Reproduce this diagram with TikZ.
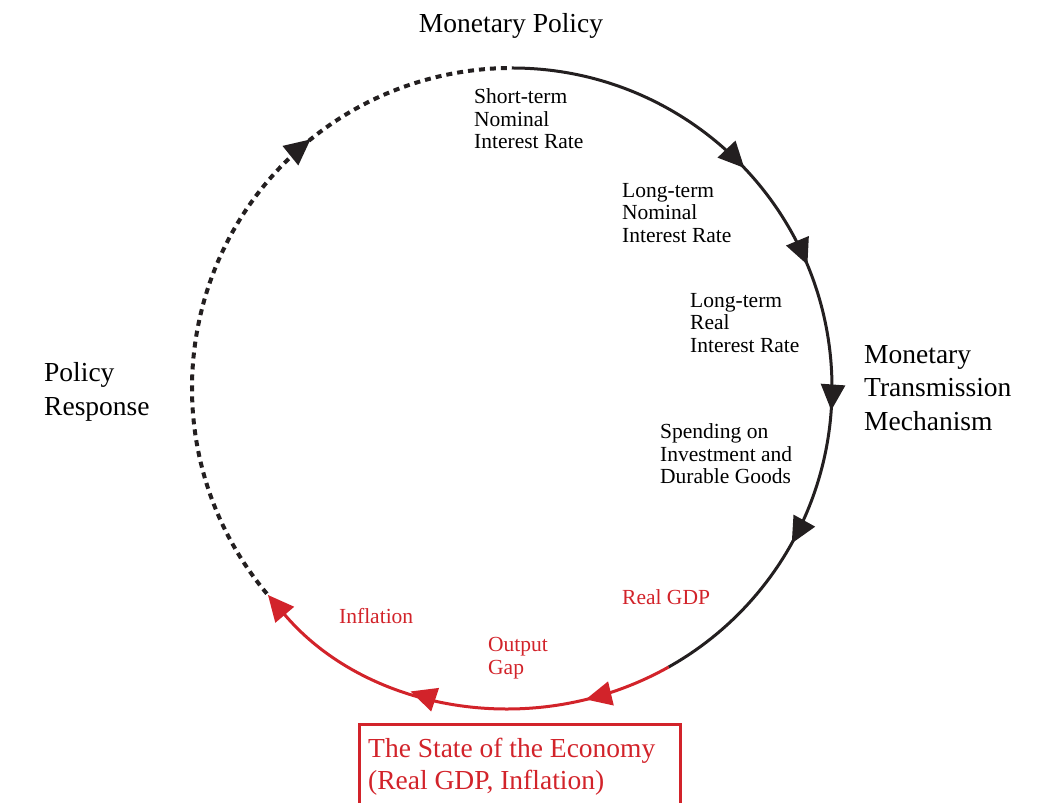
\documentclass[tikz,border=0pt]{standalone}
\usepackage{fontspec}
\setmainfont{Liberation Serif}
\usetikzlibrary{arrows.meta,decorations.markings}
\definecolor{econred}{RGB}{210,35,42}
\definecolor{inkblack}{RGB}{35,31,32}
\tikzset{
  >={Triangle[length=26pt,width=24pt]},
  small/.style={font=\fontsize{21.5}{22.5}\selectfont, align=left, inner sep=0pt, anchor=west},
  big/.style={font=\fontsize{27.5}{33.5}\selectfont, align=left, inner sep=0pt, anchor=west},
  flow/.style={line width=3pt},
  dashflow/.style={line width=4pt, dash pattern=on 6pt off 5pt},
}
\begin{document}
\begin{tikzpicture}[x=1pt,y=1pt]
\useasboundingbox (0,0) rectangle (1053,803);
\coordinate (O) at (512,415);
\coordinate (ptop) at ([shift={(90:320)}]O);
\coordinate (pred) at ([shift={(-60.7:320)}]O);
\coordinate (pdash) at ([shift={(220:320)}]O);

% black transmission arc
\draw[flow, inkblack, postaction={decorate}, decoration={markings,
   mark=at position 0.309 with {\arrow{>}},
   mark=at position 0.447 with {\arrow{>}},
   mark=at position 0.624 with {\arrow{>}},
   mark=at position 0.790 with {\arrow{>}}}]
  (ptop) arc[start angle=90, end angle=-60.7, radius=320];

% red state-of-economy arc
\draw[flow, econred, ->, postaction={decorate}, decoration={markings,
   mark=at position 0.2025 with {\arrow{>}},
   mark=at position 0.605 with {\arrow{>}}}]
  (pred) arc[start angle=-60.7, end angle=-139.7, radius=320];

% dashed policy response arc
\draw[dashflow, inkblack, postaction={decorate}, decoration={markings,
   mark=at position 0.70 with {\arrow{>}}}]
  (pdash) arc[start angle=220, end angle=90, radius=320];

% labels
\node[big, anchor=center] (mp) at (511,777) {Monetary Policy};
\node[big] (mtm) at (864,415) {Monetary\\Transmission\\Mechanism};
\node[big] (pr) at (44,411) {Policy\\Response};

\node[small] (sr) at (474,684) {Short-term\\Nominal\\Interest Rate};
\node[small] (ln) at (622,590) {Long-term\\Nominal\\Interest Rate};
\node[small] (lr) at (690,480) {Long-term\\Real\\Interest Rate};
\node[small] (sp) at (660,349) {Spending on\\Investment and\\Durable Goods};

\node[small, text=econred] (gdp) at (622,206) {Real GDP};
\node[small, text=econred] (infl) at (339,187) {Inflation};
\node[small, text=econred] (gap) at (488,145) {Output\\Gap};

% state of the economy box (runs past the lower edge)
\draw[econred, line width=3pt] (359,78) rectangle (680,-20);
\node[text=econred, anchor=north west, inner sep=0pt,
      font=\fontsize{27.5}{32}\selectfont, align=left] (state) at (368,65)
  {The State of the Economy\\(Real GDP, Inflation)};
\end{tikzpicture}
\end{document}
